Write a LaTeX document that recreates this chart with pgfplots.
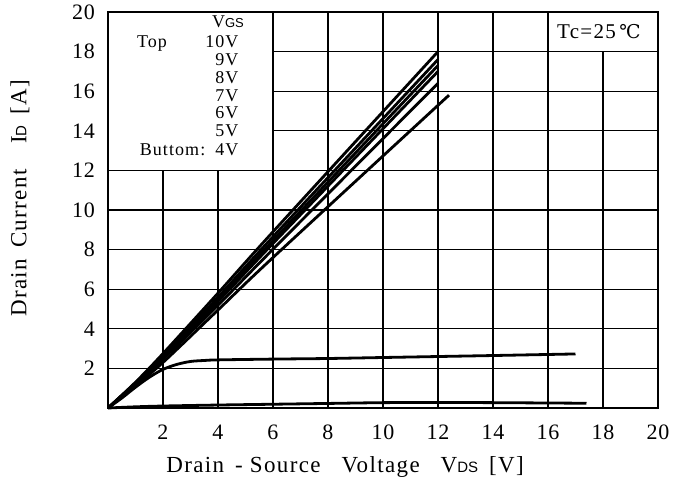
\documentclass[border=0pt]{standalone}
\usepackage{fontspec}
\setmainfont{Liberation Serif}[LetterSpace=10]
\newfontfamily\tickfont{Liberation Serif}[LetterSpace=4]
\newfontfamily\labfont{Liberation Serif}[LetterSpace=6]
\newfontfamily\dejavu{DejaVu Serif}
\newfontfamily\smallsans{Liberation Sans}
\usepackage{pgfplots}
\pgfplotsset{compat=1.18}
\begin{document}
\begin{tikzpicture}
\begin{axis}[name=ax, scale only axis, width=275pt, height=198pt,
  xmin=0, xmax=20, ymin=0, ymax=20,
  xtick={2,4,...,20}, ytick={2,4,...,20},
  major tick length=0pt,
  tick label style={font=\tickfont\fontsize{11}{13}\selectfont},
  /pgf/number format/assume math mode=true,
  xticklabel style={yshift=-5pt},
  yticklabel style={xshift=-3pt},
  axis line style={line width=1.4pt},
  xlabel={Drain\, - Source\hspace{0.6em} Voltage\hspace{0.6em} V{\smallsans\fontsize{7.5}{8}\selectfont DS}\, [V]},
  ylabel={Drain\, Current\hspace{0.8em} I{\smallsans\fontsize{7.5}{8}\selectfont D}\, [A]},
  label style={font=\labfont\fontsize{11.5}{13}\selectfont},
  xlabel style={at={(axis description cs:0.431,-0.149)}, anchor=center},
  ylabel style={at={(axis description cs:-0.16,0.53)}, anchor=center},
  clip=false,
]
% grid (without the legend and Tc boxes)
\draw[line width=0.6pt] (axis cs:2,0) -- (axis cs:2,12);
\draw[line width=0.6pt] (axis cs:4,0) -- (axis cs:4,12);
\draw[line width=0.6pt] (axis cs:6,0) -- (axis cs:6,20);
\draw[line width=0.6pt] (axis cs:8,0) -- (axis cs:8,20);
\draw[line width=0.6pt] (axis cs:10,0) -- (axis cs:10,20);
\draw[line width=0.6pt] (axis cs:12,0) -- (axis cs:12,20);
\draw[line width=0.6pt] (axis cs:14,0) -- (axis cs:14,20);
\draw[line width=0.6pt] (axis cs:16,0) -- (axis cs:16,20);
\draw[line width=0.6pt] (axis cs:18,0) -- (axis cs:18,18);
\draw[line width=0.6pt] (axis cs:0,2) -- (axis cs:20,2);
\draw[line width=0.6pt] (axis cs:0,4) -- (axis cs:20,4);
\draw[line width=0.6pt] (axis cs:0,6) -- (axis cs:20,6);
\draw[line width=0.6pt] (axis cs:0,8) -- (axis cs:20,8);
\draw[line width=0.6pt] (axis cs:0,10) -- (axis cs:20,10);
\draw[line width=0.6pt] (axis cs:0,12) -- (axis cs:20,12);
\draw[line width=0.6pt] (axis cs:6,14) -- (axis cs:20,14);
\draw[line width=0.6pt] (axis cs:6,16) -- (axis cs:20,16);
\draw[line width=0.6pt] (axis cs:6,18) -- (axis cs:20,18);
% curves
\addplot[black, line width=1.4pt, smooth] coordinates {(0,0)(1,1.3)(2,2.75)(4,5.8)(6,8.9)(12,18.0)};
\addplot[black, line width=1.4pt, smooth] coordinates {(0,0)(1,1.27)(2,2.66)(4,5.6)(6,8.65)(12,17.6)};
\addplot[black, line width=1.4pt, smooth] coordinates {(0,0)(1,1.25)(2,2.6)(4,5.48)(6,8.46)(12,17.3)};
\addplot[black, line width=1.4pt, smooth] coordinates {(0,0)(1,1.23)(2,2.55)(4,5.38)(6,8.31)(12,17.0)};
\addplot[black, line width=1.4pt, smooth] coordinates {(0,0)(1,1.18)(2,2.46)(4,5.19)(6,8.02)(12,16.4)};
\addplot[black, line width=1.4pt, smooth] coordinates {(0,0)(1,1.12)(2,2.3)(4,4.95)(6,7.6)(12.4,15.8)};
\addplot[black, line width=1.4pt, smooth] coordinates {(0,0)(0.5,0.5)(1,1.05)(1.5,1.55)(2,1.95)(2.5,2.2)(3,2.35)(3.5,2.4)(4,2.43)(6,2.47)(8,2.5)(10,2.55)(12,2.6)(14,2.65)(17,2.73)};
\addplot[black, line width=1.4pt, smooth] coordinates {(0,0)(1,0.06)(2,0.1)(4,0.15)(6,0.19)(8,0.23)(10,0.27)(12,0.28)(14,0.27)(17.4,0.24)};
% legend text
\node[font=\labfont\fontsize{9}{10}\selectfont] at (axis cs:4.36,19.5) {V{\smallsans\fontsize{6.5}{7}\selectfont GS}};
\node[font=\labfont\fontsize{9}{10}\selectfont, anchor=base west] at (axis cs:0.8,18.2) {Top};
\node[font=\labfont\fontsize{9}{10}\selectfont, anchor=base east] at (axis cs:5.0,18.2) {10V};
\node[font=\labfont\fontsize{9}{10}\selectfont, anchor=base east] at (axis cs:5.0,17.3) {9V};
\node[font=\labfont\fontsize{9}{10}\selectfont, anchor=base east] at (axis cs:5.0,16.4) {8V};
\node[font=\labfont\fontsize{9}{10}\selectfont, anchor=base east] at (axis cs:5.0,15.5) {7V};
\node[font=\labfont\fontsize{9}{10}\selectfont, anchor=base east] at (axis cs:5.0,14.6) {6V};
\node[font=\labfont\fontsize{9}{10}\selectfont, anchor=base east] at (axis cs:5.0,13.7) {5V};
\node[font=\labfont\fontsize{9}{10}\selectfont, anchor=base east] at (axis cs:5.0,12.75) {4V};
\node[font=\labfont\fontsize{9}{10}\selectfont, anchor=base west] at (axis cs:0.9,12.75) {Buttom:};
\node[font=\labfont\fontsize{10.5}{12}\selectfont] at (axis cs:17.85,18.99) {Tc=25\,{\dejavu\fontsize{9.5}{10}\selectfont ℃}};
\end{axis}
\pgfresetboundingbox
\path[use as bounding box] ([shift={(-54pt,-40pt)}]ax.south west) rectangle ([shift={(9.5pt,6pt)}]ax.north east);
\end{tikzpicture}
\end{document}
